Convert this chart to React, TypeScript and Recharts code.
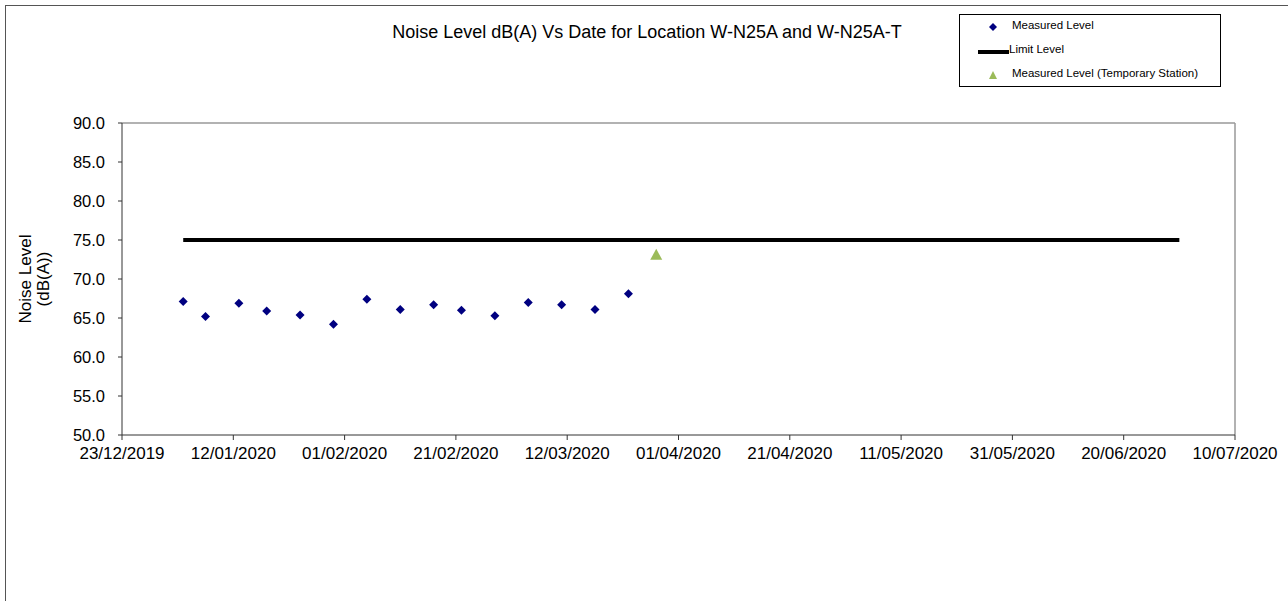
import { ScatterChart, Scatter, XAxis, YAxis, ReferenceLine } from "recharts";

// dates (dd/mm/yyyy)
const measuredDates = [
  "03/01/2020",
  "07/01/2020",
  "13/01/2020",
  "18/01/2020",
  "24/01/2020",
  "30/01/2020",
  "05/02/2020",
  "11/02/2020",
  "17/02/2020",
  "22/02/2020",
  "28/02/2020",
  "05/03/2020",
  "11/03/2020",
  "17/03/2020",
  "23/03/2020",
];
const measuredLevels = [
  67.1, 65.2, 66.9, 65.9, 65.4, 64.2, 67.4, 66.1, 66.7, 66.0, 65.3, 67.0, 66.7,
  66.1, 68.1,
];

const tempDates = ["28/03/2020"];
const tempLevels = [73.1];

const limitDates = ["03/01/2020", "30/06/2020"];
const limitLevels = [75, 75];

const xTickDays = [0, 20, 40, 60, 80, 100, 120, 140, 160, 180, 200];
const yTicks = [50, 55, 60, 65, 70, 75, 80, 85, 90];

const BASE = Date.UTC(2019, 11, 23);
const DAY = 86400000;

function toDay(s: string) {
  const [d, m, y] = s.split("/").map(Number);
  return Math.round((Date.UTC(y, m - 1, d) - BASE) / DAY);
}

function formatDay(n: number) {
  const dt = new Date(BASE + n * DAY);
  const dd = String(dt.getUTCDate()).padStart(2, "0");
  const mm = String(dt.getUTCMonth() + 1).padStart(2, "0");
  return `${dd}/${mm}/${dt.getUTCFullYear()}`;
}

const measured = measuredDates.map((d, i) => ({ day: toDay(d), level: measuredLevels[i] }));
const temporary = tempDates.map((d, i) => ({ day: toDay(d), level: tempLevels[i] }));
const limit = limitDates.map((d, i) => ({ day: toDay(d), level: limitLevels[i] }));

const FONT = '"Liberation Sans", Arial, sans-serif';
const NAVY = "#000080";
const GREEN = "#9BBB59";

const Diamond = (props: any) => {
  const { cx, cy } = props;
  const r = 4.5;
  return (
    <polygon
      points={`${cx},${cy - r} ${cx + r},${cy} ${cx},${cy + r} ${cx - r},${cy}`}
      fill={NAVY}
    />
  );
};

const Triangle = (props: any) => {
  const { cx, cy } = props;
  return (
    <polygon
      points={`${cx},${cy - 6} ${cx + 6},${cy + 5} ${cx - 6},${cy + 5}`}
      fill={GREEN}
    />
  );
};

const NoShape = () => <g />;

const YLabel = (props: any) => {
  const vb = props.viewBox || {};
  const cy = vb.y + vb.height / 2;
  const cx = 34;
  return (
    <text
      transform={`rotate(-90, ${cx}, ${cy})`}
      x={cx}
      y={cy}
      textAnchor="middle"
      fontFamily={FONT}
      fontSize={17}
      fill="#000"
    >
      <tspan x={cx} dy={-3}>Noise Level</tspan>
      <tspan x={cx} dy={18}>(dB(A))</tspan>
    </text>
  );
};

// legend box drawn as plain html over the chart
const LegendBox = () => (
  <div
    style={{
      position: "absolute",
      left: 959,
      top: 14,
      width: 260,
      height: 71,
      border: "1px solid #000",
      background: "#fff",
      fontFamily: FONT,
      fontSize: 11.5,
      color: "#000",
    }}
  >
    <svg width={260} height={71} style={{ position: "absolute", left: 0, top: 0 }}>
      <polygon points="33,8 37,12 33,16 29,12" fill={NAVY} />
      <line x1={18} y1={37} x2={49} y2={37} stroke="#000" strokeWidth={4} />
      <polygon points="33,56 37,64 29,64" fill={GREEN} />
    </svg>
    <div style={{ position: "absolute", left: 52, top: 4 }}>Measured Level</div>
    <div style={{ position: "absolute", left: 49, top: 28 }}>Limit Level</div>
    <div style={{ position: "absolute", left: 52, top: 52 }}>
      Measured Level (Temporary Station)
    </div>
  </div>
);

export default function App() {
  return (
    <div
      style={{
        position: "absolute",
        left: 0,
        top: 0,
        width: 1288,
        height: 601,
        background: "#fff",
        overflow: "hidden",
      }}
    >
      <div
        style={{
          position: "absolute",
          left: 5,
          top: 5,
          width: 1290,
          height: 600,
          borderLeft: "1px solid #555",
          borderTop: "1px solid #555",
        }}
      />
      <div
        style={{
          position: "absolute",
          left: 0,
          top: 22,
          width: 1294,
          textAlign: "center",
          fontFamily: FONT,
          fontSize: 18,
          color: "#000",
        }}
      >
        Noise Level dB(A) Vs Date for Location W-N25A and W-N25A-T
      </div>
      <ScatterChart
        width={1288}
        height={601}
        margin={{ top: 123, right: 53, bottom: 136, left: 60 }}
        style={{ position: "absolute", left: 0, top: 0 }}
      >
        <XAxis
          type="number"
          dataKey="day"
          domain={[0, 200]}
          ticks={xTickDays}
          interval={0}
          allowDataOverflow
          tickFormatter={formatDay}
          tick={{ fontSize: 17, fontFamily: FONT, fill: "#000" }}
          tickSize={5}
          tickMargin={7}
          height={30}
          axisLine={{ stroke: "#333" }}
          tickLine={{ stroke: "#333" }}
        />
        <YAxis
          type="number"
          dataKey="level"
          domain={[50, 90]}
          ticks={yTicks}
          interval={0}
          allowDataOverflow
          tickFormatter={(v: number) => v.toFixed(1)}
          tick={{ fontSize: 16.5, fontFamily: FONT, fill: "#000" }}
          tickSize={4}
          tickMargin={13}
          width={62}
          axisLine={{ stroke: "#333" }}
          tickLine={{ stroke: "#333" }}
          label={{ content: YLabel }}
        />
        <ReferenceLine y={90} stroke="#999" strokeWidth={1.5} />
        <ReferenceLine x={200} stroke="#999" strokeWidth={1.5} />
        <Scatter
          name="Limit Level"
          data={limit}
          line={{ stroke: "#000", strokeWidth: 4 }}
          shape={NoShape}
          isAnimationActive={false}
        />
        <Scatter
          name="Measured Level"
          data={measured}
          shape={Diamond}
          isAnimationActive={false}
        />
        <Scatter
          name="Measured Level (Temporary Station)"
          data={temporary}
          shape={Triangle}
          isAnimationActive={false}
        />
      </ScatterChart>
      <LegendBox />
    </div>
  );
}
